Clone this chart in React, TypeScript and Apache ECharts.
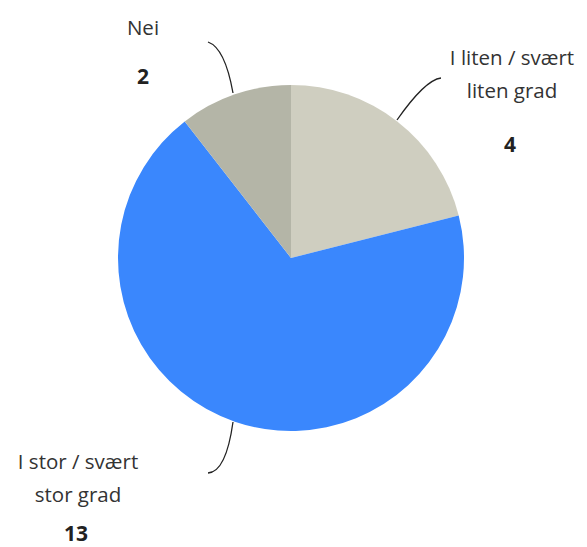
import React, { useEffect, useRef } from "react";
import * as echarts from "echarts";

const categories = ["I liten / svært\nliten grad", "I stor / svært\nstor grad", "Nei"];
const values = [4, 13, 2];
const colors = ["#cfcec0", "#3a87fd", "#b4b5a7"];

export default function App() {
  const ref = useRef<HTMLDivElement>(null);
  useEffect(() => {
    document.body.style.margin = "0";
    const chart = echarts.init(ref.current!, undefined, { renderer: "svg" });
    const font = "'Open Sans', 'Noto Sans', sans-serif";
    const labelStyle = (x: number, y: number, text: string) => ({
      type: "text",
      x,
      y,
      style: {
        text,
        fontFamily: font,
        fontSize: 20.5,
        lineHeight: 33,
        fill: "#333",
        align: "center",
        verticalAlign: "middle",
      },
    });
    const valueStyle = (x: number, y: number, v: number) => ({
      type: "text",
      x,
      y,
      style: {
        text: String(v),
        fontFamily: font,
        fontSize: 21,
        fontWeight: "bold",
        fill: "#222",
        align: "center",
        verticalAlign: "middle",
      },
    });
    const curve = (x1: number, y1: number, cpx1: number, cpy1: number, x2: number, y2: number) => ({
      type: "bezierCurve",
      shape: { x1, y1, cpx1, cpy1, x2, y2 },
      style: { stroke: "#222", lineWidth: 1.3, fill: "none" },
    });
    chart.setOption({
      animation: false,
      backgroundColor: "#fff",
      series: [
        {
          type: "pie",
          center: [291, 258],
          radius: [0, 173],
          startAngle: 90,
          clockwise: true,
          label: { show: false },
          labelLine: { show: false },
          emphasis: { disabled: true },
          itemStyle: { borderWidth: 0 },
          data: categories.map((name, i) => ({
            name,
            value: values[i],
            itemStyle: { color: colors[i] },
          })),
        },
      ],
      graphic: [
        labelStyle(512, 73, categories[0]),
        valueStyle(510, 144, values[0]),
        labelStyle(78, 477, categories[1]),
        valueStyle(76, 533, values[1]),
        labelStyle(143, 27, categories[2]),
        valueStyle(143, 76, values[2]),
        curve(397, 120, 425, 80, 441, 78),
        curve(233, 93, 225, 48, 208, 42),
        curve(233, 422, 226, 472, 208, 473),
      ],
    });
    return () => chart.dispose();
  }, []);
  return <div ref={ref} style={{ width: 587, height: 547 }} />;
}
